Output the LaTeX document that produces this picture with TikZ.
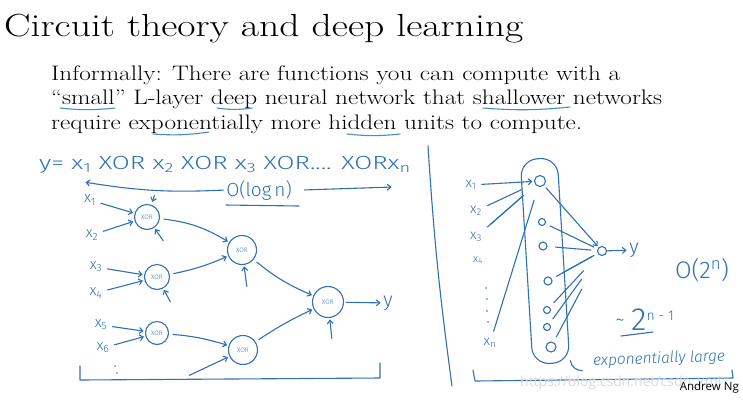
\documentclass[tikz,border=0pt]{standalone}
\usepackage{fontspec}
\usetikzlibrary{arrows.meta}
\newfontfamily\handfont{Fira Sans Light}
\newfontfamily\ngfont{Open Sans}
\definecolor{ink}{RGB}{48,112,180}
\definecolor{uline}{RGB}{70,140,200}
\definecolor{wm}{RGB}{215,220,225}
\tikzset{
  hand/.style={text=ink,font=\handfont,inner sep=1pt},
  body/.style={anchor=base west,inner sep=0pt,font=\fontsize{21}{24}\selectfont},
  pen/.style={draw=ink,line width=1.1pt,line cap=round,line join=round},
  arr/.style={pen,-{Straight Barb[length=3.5pt,width=6pt]},shorten >=1.5pt,shorten <=1.5pt},
  gate/.style={circle,draw=ink,line width=1.1pt,text=ink,font=\handfont\fontsize{6.5}{7}\selectfont,inner sep=0pt},
  unit/.style={circle,draw=ink,line width=1.1pt,inner sep=0pt},
  dotm/.style={circle,fill=ink,inner sep=0pt,minimum size=1.8pt},
  ul/.style={draw=uline,line width=1.1pt,line cap=round}
}
\begin{document}
\begin{tikzpicture}[x=1pt,y=-1pt]
\useasboundingbox[fill=white] (0,0) rectangle (743,400);
% title and statement
\node[anchor=base west,inner sep=0pt,font=\fontsize{32}{34}\selectfont] (title) at (4,36) {\scalebox{1.24}[1]{Circuit theory and deep learning}};
\node[body] (l1) at (51,80) {\scalebox{1.2}[1]{Informally: There are functions you can compute with a}};
\node[body] (l2) at (51,104.5) {\scalebox{1.2}[1]{``small'' L-layer deep neural network that shallower networks}};
\node[body] (l3) at (51,129) {\scalebox{1.2}[1]{require exponentially more hidden units to compute.}};
\draw[ul] (60,108) to[bend right=6] (115,108);
\draw[ul] (217,108) to[bend right=8] (252,108);
\draw[ul] (483,108) to[bend right=5] (570,107);
\draw[ul] (153,134) to[bend right=6] (209,132);
\draw[ul] (347,134) to[bend right=6] (400,134);
% ---------- left: XOR tree ----------
\node[hand,anchor=west,font=\handfont\fontsize{19}{20}\selectfont] (eq) at (38,165) {\scalebox{1.37}[1]{y= x\textsubscript{1} XOR x\textsubscript{2} XOR x\textsubscript{3} XOR.... XORx\textsubscript{n}}};
\node[hand,font=\handfont\fontsize{19}{20}\selectfont] (olog) at (259,190) {O(log\,n)};
\coordinate (lend) at (84,182);
\coordinate (rend) at (393,187);
\draw[arr] (olog.west) to[bend left=6] (lend);
\draw[arr] ([xshift=10pt]olog.east) -- (rend);
\draw[pen] (226,205) -- (299,206);
% inputs
\node[hand,font=\handfont\fontsize{15}{16}\selectfont] (x1) at (90,200) {x\textsubscript{1}};
\node[hand,font=\handfont\fontsize{15}{16}\selectfont] (x2) at (92,235) {x\textsubscript{2}};
\node[hand,font=\handfont\fontsize{15}{16}\selectfont] (x3) at (96,267) {x\textsubscript{3}};
\node[hand,font=\handfont\fontsize{15}{16}\selectfont] (x4) at (96,293) {x\textsubscript{4}};
\node[hand,font=\handfont\fontsize{15}{16}\selectfont] (x5) at (101,325) {x\textsubscript{5}};
\node[hand,font=\handfont\fontsize{15}{16}\selectfont] (x6) at (103,348) {x\textsubscript{6}};
\node[dotm] (xd1) at (115,366) {};
\node[dotm] (xd2) at (117,373) {};
% gates
\node[gate,minimum size=25pt] (g1) at (147,217) {XOR};
\node[gate,minimum size=25pt] (g2) at (157,277) {XOR};
\node[gate,minimum size=23pt] (g3) at (157,333) {XOR};
\node[gate,minimum size=29pt] (gA) at (242,250) {XOR};
\node[gate,minimum size=29pt] (gB) at (243,350) {XOR};
\node[gate,minimum size=31pt] (gF) at (328,302) {XOR};
\node[hand,font=\handfont\fontsize{20}{20}\selectfont] (yout) at (388,303) {y};
% connectors
\draw[arr,shorten <=4pt] (x1) -- (g1);
\draw[arr,shorten <=4pt] (x2) -- (g1);
\draw[arr,shorten <=4pt] (x3) -- (g2);
\draw[arr,shorten <=4pt] (x4) -- (g2);
\draw[arr,shorten <=4pt] (x5) -- (g3);
\draw[arr,shorten <=4pt] (x6) -- (g3);
\draw[arr,shorten <=4pt] (g1) to[bend left=12] (gA);
\draw[arr,shorten <=4pt] (g2) to[bend right=6] (gA);
\draw[arr,shorten <=4pt] (g3) to[bend left=6] (gB);
\coordinate (bin) at (188,376);
\draw[arr] (bin) -- (gB);
\draw[arr,shorten <=4pt] (gA) to[bend right=8] (gF);
\draw[arr,shorten <=4pt] (gB) to[bend left=4] (gF);
\draw[arr,shorten <=2pt] (gF) -- (yout);
% bias arrows
\coordinate (b0) at (155,194);
\draw[arr,shorten >=3pt] (b0) -- (g1);
\coordinate (b1) at (164,242);
\draw[arr] (b1) -- (g1);
\coordinate (b2) at (171,303);
\draw[arr] (b2) -- (g2);
\coordinate (bA) at (247,288);
\draw[arr] (bA) -- (gA);
\coordinate (bF) at (332,340);
\draw[arr] (bF) -- (gF);
% bracket
\draw[pen] (80,366) -- (80,380) -- (380,378) -- (380,363);
% divider
\draw[pen] (428,146) to[bend right=2] (452,386);
% ---------- right: shallow network ----------
\node[hand,font=\handfont\fontsize{14}{16}\selectfont] (r1) at (471,185) {x\textsubscript{1}};
\node[hand,font=\handfont\fontsize{14}{16}\selectfont] (r2) at (476,211) {x\textsubscript{2}};
\node[hand,font=\handfont\fontsize{14}{16}\selectfont] (r3) at (476,237) {x\textsubscript{3}};
\node[hand,font=\handfont\fontsize{11}{16}\selectfont] (r4) at (478,260) {x\textsubscript{4}};
\node[dotm] (rd1) at (486,288) {};
\node[dotm] (rd2) at (487,299) {};
\node[dotm] (rd3) at (487,311) {};
\node[dotm] (rd4) at (488,322) {};
\node[hand,font=\handfont\fontsize{14}{16}\selectfont] (rn) at (490,343) {x\textsubscript{n}};
\node[draw=ink,line width=1.1pt,rounded corners=17pt,minimum width=37pt,minimum height=205pt,rotate=3.5] (box) at (545,261) {};
\draw[pen] (box.south east) ++(0,-2) to[out=-80,in=180] ++(12,10);
\node[unit,minimum size=11pt] (h1) at (540,181) {};
\node[unit,minimum size=7pt] (h2) at (542,222) {};
\node[unit,minimum size=8pt] (h3) at (543,246) {};
\node[unit,minimum size=8pt] (h4) at (548,281) {};
\node[unit,minimum size=7pt] (h5) at (547,310) {};
\node[unit,minimum size=7pt] (h6) at (547,327) {};
\node[unit,minimum size=10pt] (h7) at (551,347) {};
\node[unit,minimum size=9pt] (o) at (602,251) {};
\node[hand,font=\handfont\fontsize{20}{20}\selectfont] (ry) at (634,250) {y};
\draw[arr,shorten <=0pt] (o) -- (ry);
% hidden -> output
\draw[arr,shorten <=3pt] (h1) -- (o);
\draw[pen,shorten <=5pt,shorten >=4pt] (h2) -- (o);
\draw[pen,shorten <=8pt,shorten >=6pt] (h3) -- (o);
\draw[pen,shorten <=5pt,shorten >=4pt] (h4) -- (o);
\draw[pen,shorten <=12pt,shorten >=6pt] (h4) -- (o);
\draw[pen,shorten <=6pt,shorten >=22pt] (h5) -- (o);
\draw[pen,shorten <=6pt,shorten >=30pt] (h6) -- (o);
\draw[pen,shorten <=6pt,shorten >=38pt] (h7) -- (o);
% inputs -> hidden
\draw[arr,shorten <=4pt] (r1) -- (h1);
\draw[pen,shorten <=5pt,shorten >=14pt] (r2) -- (h1);
\draw[pen,shorten <=6pt,shorten >=18pt] (r3) -- (h1);
\draw[pen,shorten <=10pt,shorten >=16pt] (r3) -- (h1);
\draw[pen,shorten <=6pt,shorten >=14pt] (rn) -- (h1);
% complexity labels
\node[hand,font=\handfont\fontsize{24}{24}\selectfont] (o2n) at (702,270) {O(2\textsuperscript{n})};
\node[hand,font=\handfont\fontsize{20}{20}\selectfont] (tl) at (620,323) {\textasciitilde};
\node[hand,anchor=base west,font=\handfont\fontsize{32}{32}\selectfont] (two) at (630,330) {2\textsuperscript{\fontsize{14}{14}\selectfont n - 1}};
\draw[pen] (621,336) -- (653,332);
\node[hand,rotate=2,font=\handfont\itshape\fontsize{15.5}{15}\selectfont] (expl) at (659,359) {exponentially large};
\draw[pen] (473,370) -- (475,381) -- (733,378) -- (732,370);
% watermark and credit
\node[text=wm,font=\ngfont\fontsize{14}{14}\selectfont,anchor=west,inner sep=0pt] (wmk) at (520,383) {https://blog.csdn.net/csdn\_xmj};
\node[font=\ngfont\fontsize{11.5}{12}\selectfont,anchor=east,inner sep=0pt] (ng) at (739,388) {Andrew Ng};
\end{tikzpicture}
\end{document}
